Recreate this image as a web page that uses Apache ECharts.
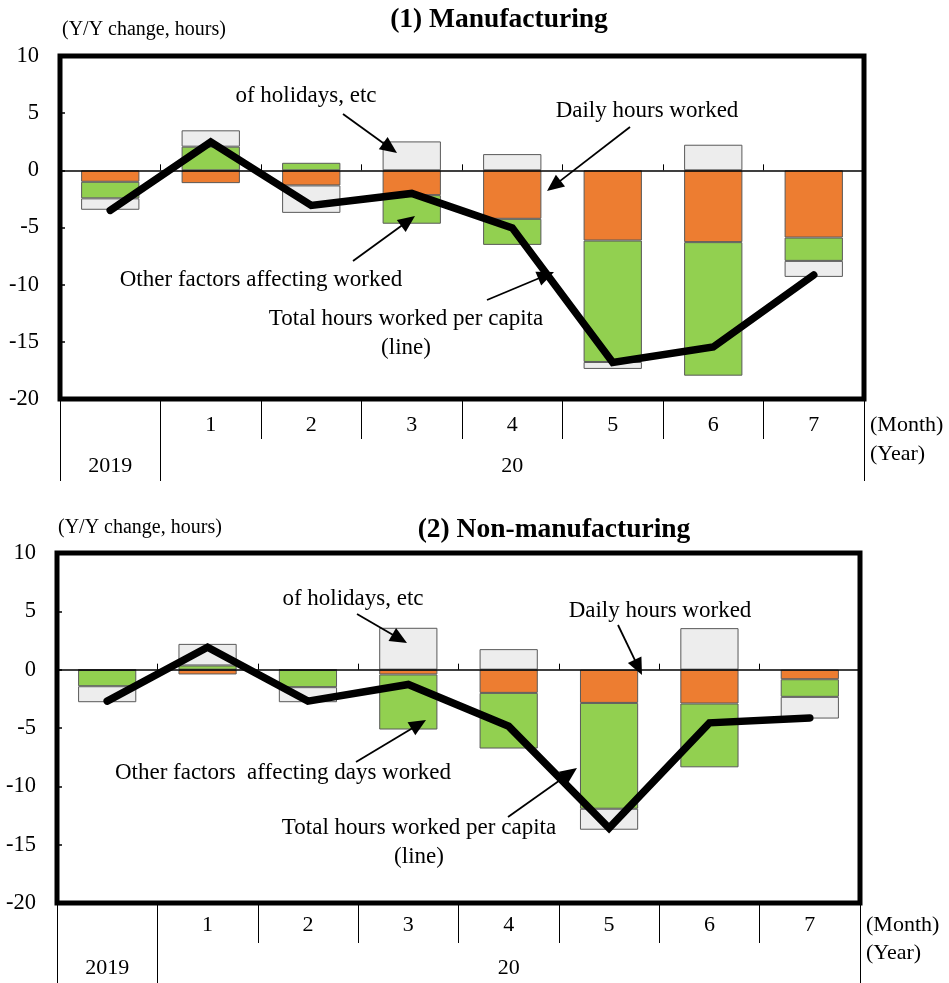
<!DOCTYPE html>
<html>
<head>
<meta charset="utf-8">
<script src="https://cdn.jsdelivr.net/npm/echarts@6/dist/echarts.min.js"></script>
<style>
  html, body { margin: 0; padding: 0; background: #fff; }
  #chart { width: 949px; height: 983px; }
</style>
</head>
<body>
<div id="chart"></div>
<script>
// Month categories (first one is the 2019 reference month, unlabeled)
const monthLabels = ['', '1', '2', '3', '4', '5', '6', '7'];
const yearLabels = ['2019', '', '', '', '20', '', '', ''];

// (1) Manufacturing, Y/Y change in hours
const mfgDaily    = [-1.0, -1.12, -1.32, -2.17, -4.24, -6.14, -6.28, -5.88];
const mfgOther    = [-1.45, 2.07, 0.66, -2.5, -2.28, -10.62, -11.68, -2.04];
const mfgHoliday  = [-1.0, 1.43, -2.4, 2.53, 1.42, -0.61, 2.24, -1.4];
const mfgTotal    = [-3.5, 2.47, -3.07, -2.02, -5.03, -16.8, -15.45, -9.15];

// (2) Non-manufacturing, Y/Y change in hours
const nonDaily    = [-0.03, -0.41, -0.03, -0.41, -1.99, -2.85, -2.9, -0.82];
const nonOther    = [-1.39, 0.36, -1.47, -4.72, -4.77, -9.07, -5.47, -1.51];
const nonHoliday  = [-1.37, 1.85, -1.29, 3.59, 1.76, -1.8, 3.56, -1.86];
const nonTotal    = [-2.7, 1.93, -2.7, -1.27, -4.85, -13.58, -4.56, -4.14];

const yMin = -20, yMax = 10, yStep = 5;

const FONT = '"Liberation Serif", "Times New Roman", serif';
const ORANGE = '#ED7D31', GREEN = '#92D050', GRAY = '#EDEDED', EDGE = '#595959';

const chart = echarts.init(document.getElementById('chart'), null, { renderer: 'canvas' });

function grids() {
  return [
    { left: 60, top: 56, width: 804, height: 343, show: true, borderColor: '#000', borderWidth: 5,
      backgroundColor: 'transparent', containLabel: false, outerBoundsMode: 'none' },
    { left: 57, top: 553, width: 803, height: 350, show: true, borderColor: '#000', borderWidth: 5,
      backgroundColor: 'transparent', containLabel: false, outerBoundsMode: 'none' }
  ];
}

function xAxesFor(gridIndex, monthMargin, yearMargin) {
  const labelStyle = { color: '#000', fontFamily: FONT, fontSize: 22 };
  return [
    // zero line with small boundary ticks
    { type: 'category', gridIndex, data: monthLabels, position: 'bottom', z: 5,
      axisLine: { show: true, onZero: true, lineStyle: { color: '#000', width: 1.7 } },
      axisTick: { show: true, inside: true, length: 6, interval: 0, lineStyle: { color: '#000', width: 1 } },
      axisLabel: { show: false }, splitLine: { show: false } },
    // month row
    { type: 'category', gridIndex, data: monthLabels, position: 'bottom',
      axisLine: { show: false, onZero: false },
      axisTick: { show: true, length: 40, interval: 0, lineStyle: { color: '#000', width: 1 } },
      axisLabel: Object.assign({ interval: 0, margin: monthMargin }, labelStyle),
      splitLine: { show: false } },
    // year row
    { type: 'category', gridIndex, data: yearLabels, position: 'bottom',
      axisLine: { show: false, onZero: false },
      axisTick: { show: true, length: 82, interval: function (i) { return i < 2; },
                  lineStyle: { color: '#000', width: 1 } },
      axisLabel: Object.assign({ interval: 0, margin: yearMargin }, labelStyle),
      splitLine: { show: false } }
  ];
}

function yAxisFor(gridIndex) {
  return {
    type: 'value', gridIndex, min: yMin, max: yMax, interval: yStep,
    axisLine: { show: false },
    axisTick: { show: true, inside: true, length: 5, lineStyle: { color: '#000', width: 1.5 } },
    splitLine: { show: false },
    axisLabel: { color: '#000', fontFamily: FONT, fontSize: 22.5, margin: 21 }
  };
}

function barSeries(name, data, color, axisIdx, stack) {
  return {
    name, type: 'bar', data, stack, xAxisIndex: axisIdx, yAxisIndex: axisIdx / 3,
    barWidth: '58%', z: 2,
    itemStyle: { color, borderColor: EDGE, borderWidth: 1 }
  };
}

function lineSeries(name, data, axisIdx) {
  return {
    name, type: 'line', data, xAxisIndex: axisIdx, yAxisIndex: axisIdx / 3,
    symbol: 'none', z: 10,
    lineStyle: { color: '#000', width: 7.5, cap: 'round', join: 'miter' }
  };
}

function arrow(x1, y1, x2, y2) {
  const dx = x2 - x1, dy = y2 - y1, L = Math.hypot(dx, dy);
  const ux = dx / L, uy = dy / L, hl = 17, hw = 7.5;
  const bx = x2 - ux * hl, by = y2 - uy * hl;
  return [
    { type: 'line', z: 100, shape: { x1, y1, x2: bx + ux * 2, y2: by + uy * 2 },
      style: { stroke: '#000', lineWidth: 1.8 } },
    { type: 'polygon', z: 100,
      shape: { points: [[x2, y2], [bx - uy * hw, by + ux * hw], [bx + uy * hw, by - ux * hw]] },
      style: { fill: '#000' } }
  ];
}

function label(text, x, y, opts) {
  opts = opts || {};
  return {
    type: 'text', x, y, z: 100,
    style: {
      text, fill: '#000',
      font: (opts.bold ? 'bold ' : '') + (opts.size || 23) + 'px ' + FONT,
      align: opts.align || 'center', verticalAlign: 'middle'
    }
  };
}

const graphics = [
  // titles and units
  label('(1) Manufacturing', 499, 20, { bold: true, size: 27.5 }),
  label('(Y/Y change, hours)', 62, 30, { size: 20, align: 'left' }),
  label('(2) Non-manufacturing', 554, 530, { bold: true, size: 27.5 }),
  label('(Y/Y change, hours)', 58, 528, { size: 20, align: 'left' }),
  label('(Month)', 870, 425, { size: 22, align: 'left' }),
  label('(Year)', 870, 454, { size: 22, align: 'left' }),
  label('(Month)', 866, 925, { size: 22, align: 'left' }),
  label('(Year)', 866, 953, { size: 22, align: 'left' }),

  // annotations, panel 1
  label('of holidays, etc', 306, 96),
  label('Daily hours worked', 647, 111),
  label('Other factors affecting worked', 261, 280),
  label('Total hours worked per capita', 406, 319),
  label('(line)', 406, 348),
  ...arrow(343, 114, 397, 153),
  ...arrow(630, 127, 547, 191),
  ...arrow(353, 261, 415, 216),
  ...arrow(487, 300, 554, 272),

  // annotations, panel 2
  label('of holidays, etc', 353, 599),
  label('Daily hours worked', 660, 611),
  label('Other factors  affecting days worked', 283, 773),
  label('Total hours worked per capita', 419, 828),
  label('(line)', 419, 857),
  ...arrow(357, 614, 407, 643),
  ...arrow(618, 625, 642, 675),
  ...arrow(356, 762, 426, 720),
  ...arrow(508, 817, 577, 768)
];

chart.setOption({
  animation: false,
  backgroundColor: '#fff',
  textStyle: { fontFamily: FONT },
  grid: grids(),
  xAxis: [...xAxesFor(0, 15, 56), ...xAxesFor(1, 11, 54)],
  yAxis: [yAxisFor(0), yAxisFor(1)],
  series: [
    barSeries('Daily hours worked', mfgDaily, ORANGE, 0, 'mfg'),
    barSeries('Other factors affecting days worked', mfgOther, GREEN, 0, 'mfg'),
    barSeries('Number of holidays, etc', mfgHoliday, GRAY, 0, 'mfg'),
    lineSeries('Total hours worked per capita', mfgTotal, 0),
    barSeries('Daily hours worked', nonDaily, ORANGE, 3, 'non'),
    barSeries('Other factors affecting days worked', nonOther, GREEN, 3, 'non'),
    barSeries('Number of holidays, etc', nonHoliday, GRAY, 3, 'non'),
    lineSeries('Total hours worked per capita', nonTotal, 3)
  ],
  graphic: graphics
});
</script>
</body>
</html>
